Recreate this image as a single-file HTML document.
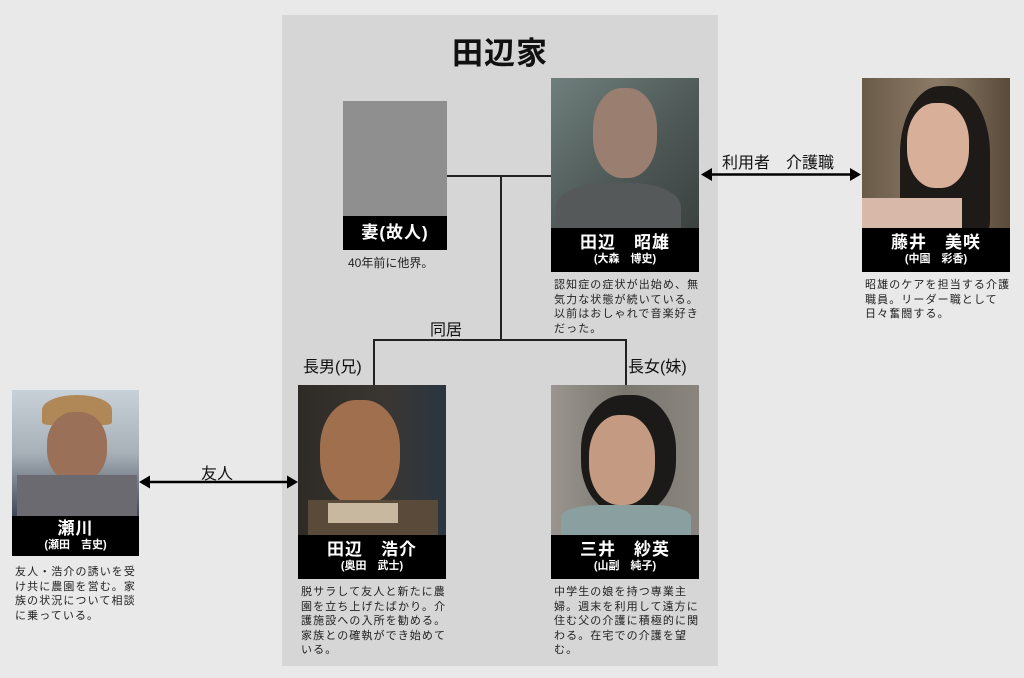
<!DOCTYPE html>
<html><head><meta charset="utf-8"><style>
*{margin:0;padding:0;box-sizing:border-box}
body{width:1024px;height:678px;background:#e9e9e9;position:relative;overflow:hidden;font-family:"Liberation Sans","Noto Sans CJK JP",sans-serif;color:#111}
.a{position:absolute}
.panel{left:282px;top:15px;width:436px;height:651px;background:#d6d6d6}
.title{left:282px;width:436px;top:28px;text-align:center;font-size:31px;font-weight:bold;letter-spacing:1px}
.ph{position:absolute;overflow:hidden}
.lb{position:absolute;background:#000;color:#fff;text-align:center;font-weight:bold}
.lb .n{font-size:17px;line-height:20px;padding-top:5px;letter-spacing:1px}
.lb .s{font-size:11px;line-height:13px}
.tx{position:absolute;font-size:11px;line-height:14.5px;letter-spacing:1.1px;color:#222;white-space:nowrap}
.ln{position:absolute;background:#222}
.lab{position:absolute;font-size:16px;white-space:nowrap}
</style></head><body>
<div class="a panel"></div>
<div class="a title">田辺家</div>

<div class="ph" style="left:343px;top:101px;width:104px;height:115px;background:#8f8f8f"></div>
<div class="lb" style="left:343px;top:216px;width:104px;height:34px"><div class="n" style="padding-top:7px">妻(故人)</div></div>
<div class="tx" style="left:348px;top:256px;letter-spacing:0;font-size:12px">40年前に他界。</div>

<div class="ph" style="left:551px;top:78px;width:148px;height:150px;background:linear-gradient(135deg,#6f7f7c,#4c5654 60%,#3b4240)">
 <div class="a" style="left:42px;top:10px;width:64px;height:90px;border-radius:45%;background:#9a7f70"></div>
 <div class="a" style="left:5px;top:105px;width:125px;height:60px;border-radius:40% 40% 0 0;background:#55595a"></div>
</div>
<div class="lb" style="left:551px;top:228px;width:148px;height:44px"><div class="n">田辺　昭雄</div><div class="s">(大森　博史)</div></div>
<div class="tx" style="left:554px;top:278px">認知症の症状が出始め、無<br>気力な状態が続いている。<br>以前はおしゃれで音楽好き<br>だった。</div>

<div class="ph" style="left:862px;top:78px;width:148px;height:150px;background:linear-gradient(90deg,#6a5a48,#8a7a66 50%,#5a4a3a)">
 <div class="a" style="left:38px;top:8px;width:90px;height:150px;border-radius:45% 45% 10% 10%;background:#1e1a18"></div>
 <div class="a" style="left:45px;top:25px;width:62px;height:85px;border-radius:45%;background:#d8b09a"></div>
 <div class="a" style="left:0px;top:120px;width:100px;height:40px;background:#d8b8a8"></div>
</div>
<div class="lb" style="left:862px;top:228px;width:148px;height:44px"><div class="n">藤井　美咲</div><div class="s">(中園　彩香)</div></div>
<div class="tx" style="left:865px;top:278px">昭雄のケアを担当する介護<br>職員。リーダー職として<br>日々奮闘する。</div>

<div class="ph" style="left:298px;top:385px;width:148px;height:150px;background:linear-gradient(90deg,#2e2a26,#3a3632 60%,#2a3640)">
 <div class="a" style="left:22px;top:15px;width:80px;height:105px;border-radius:45%;background:#a0704e"></div>
 <div class="a" style="left:10px;top:115px;width:130px;height:40px;background:#5a4a3a"></div>
 <div class="a" style="left:30px;top:118px;width:70px;height:20px;background:#c8b8a0"></div>
</div>
<div class="lb" style="left:298px;top:535px;width:148px;height:44px"><div class="n">田辺　浩介</div><div class="s">(奥田　武士)</div></div>
<div class="tx" style="left:301px;top:585px">脱サラして友人と新たに農<br>園を立ち上げたばかり。介<br>護施設への入所を勧める。<br>家族との確執ができ始めて<br>いる。</div>

<div class="ph" style="left:551px;top:385px;width:148px;height:150px;background:linear-gradient(90deg,#9a958e,#7a7670 50%,#8a857e)">
 <div class="a" style="left:30px;top:10px;width:95px;height:120px;border-radius:45%;background:#1c1a18"></div>
 <div class="a" style="left:38px;top:30px;width:66px;height:90px;border-radius:45%;background:#c49a82"></div>
 <div class="a" style="left:10px;top:120px;width:130px;height:40px;border-radius:30% 30% 0 0;background:#8aa0a0"></div>
</div>
<div class="lb" style="left:551px;top:535px;width:148px;height:44px"><div class="n">三井　紗英</div><div class="s">(山副　純子)</div></div>
<div class="tx" style="left:554px;top:585px">中学生の娘を持つ専業主<br>婦。週末を利用して遠方に<br>住む父の介護に積極的に関<br>わる。在宅での介護を望<br>む。</div>

<div class="ph" style="left:12px;top:390px;width:127px;height:126px;background:linear-gradient(180deg,#c8d0d8,#a8b0b8 50%,#404858)">
 <div class="a" style="left:30px;top:5px;width:70px;height:30px;border-radius:50% 50% 10% 10%;background:#b08858"></div>
 <div class="a" style="left:35px;top:22px;width:60px;height:70px;border-radius:45%;background:#9a7058"></div>
 <div class="a" style="left:5px;top:85px;width:120px;height:45px;background:#6a6a70"></div>
</div>
<div class="lb" style="left:12px;top:516px;width:127px;height:40px"><div class="n" style="padding-top:3px">瀬川</div><div class="s">(瀬田　吉史)</div></div>
<div class="tx" style="left:15px;top:565px">友人・浩介の誘いを受<br>け共に農園を営む。家<br>族の状況について相談<br>に乗っている。</div>

<div class="ln" style="left:447px;top:175px;width:104px;height:1.5px"></div>
<div class="ln" style="left:500px;top:175px;width:1.5px;height:165px"></div>
<div class="ln" style="left:373px;top:339px;width:253px;height:1.5px"></div>
<div class="ln" style="left:373px;top:339px;width:1.5px;height:46px"></div>
<div class="ln" style="left:625px;top:339px;width:1.5px;height:46px"></div>
<div class="lab" style="left:430px;top:316px">同居</div>
<div class="lab" style="left:303px;top:353px">長男(兄)</div>
<div class="lab" style="left:628px;top:353px">長女(妹)</div>

<svg class="a" style="left:0;top:0" width="1024" height="678">
 <g fill="#000" stroke="#000">
  <line x1="708" y1="174.5" x2="854" y2="174.5" stroke-width="2.5"/>
  <polygon points="701,174.5 712,168 712,181" stroke="none"/>
  <polygon points="861,174.5 850,168 850,181" stroke="none"/>
  <line x1="146" y1="482" x2="291" y2="482" stroke-width="2.5"/>
  <polygon points="139,482 150,475.5 150,488.5" stroke="none"/>
  <polygon points="298,482 287,475.5 287,488.5" stroke="none"/>
 </g>
</svg>
<div class="lab" style="left:722px;top:149px">利用者　介護職</div>
<div class="lab" style="left:201px;top:460px">友人</div>
</body></html>
